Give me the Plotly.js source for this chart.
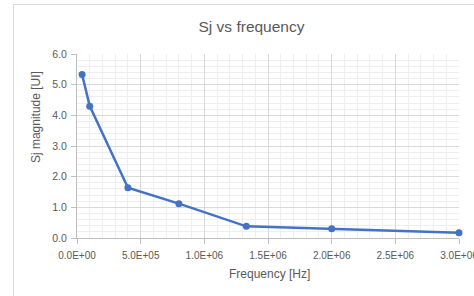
<!DOCTYPE html>
<html>
<head>
<meta charset="utf-8">
<script src="https://cdn.plot.ly/plotly-3.0.1.min.js"></script>
<style>
html,body{margin:0;padding:0;background:#fff;overflow:hidden;}
#wrap{position:relative;width:474px;height:296px;}
#chart{position:absolute;left:0;top:0;width:474px;height:296px;}
#frame{position:absolute;left:13px;top:4px;width:500px;height:320px;border-left:1px solid #d9d9d9;border-top:1px solid #d9d9d9;pointer-events:none;}
</style>
</head>
<body>
<div id="wrap"><div id="chart"></div><div id="frame"></div></div>
<script>
var frequencyHz = [40000, 100000, 400000, 800000, 1330000, 2000000, 3000000];
var sjMagnitudeUI = [5.33, 4.30, 1.64, 1.12, 0.38, 0.30, 0.17];
var xTickVals = [0, 500000, 1000000, 1500000, 2000000, 2500000, 3000000];
var xTickText = ["0.0E+00", "5.0E+05", "1.0E+06", "1.5E+06", "2.0E+06", "2.5E+06", "3.0E+06"];
var yTickVals = [0, 1, 2, 3, 4, 5, 6];
var yTickText = ["0.0", "1.0", "2.0", "3.0", "4.0", "5.0", "6.0"];

var FONT = "Liberation Sans, Arial, sans-serif";
var TXT = "#595959";

var trace = {
  x: frequencyHz, y: sjMagnitudeUI,
  type: "scatter", mode: "lines+markers",
  line: {color: "#4472C4", width: 2.5},
  marker: {color: "#4472C4", size: 7},
  cliponaxis: false,
  hoverinfo: "skip"
};

var layout = {
  width: 474, height: 296,
  margin: {l: 77, r: 15, t: 54, b: 58},
  paper_bgcolor: "rgba(0,0,0,0)", plot_bgcolor: "#fff",
  showlegend: false,
  font: {family: FONT, color: TXT},
  title: {text: "Sj vs frequency", font: {family: FONT, size: 15.5, color: TXT},
          x: 251.5/474, xanchor: "center", xref: "container",
          y: 1 - 27/296, yanchor: "middle", yref: "container"},
  xaxis: {
    range: [0, 3000000], tickmode: "array", tickvals: xTickVals, ticktext: xTickText,
    showgrid: true, gridcolor: "#d9d9d9", gridwidth: 1,
    minor: {dtick: 100000, showgrid: true, gridcolor: "#eeeeee", gridwidth: 1, ticks: ""},
    ticks: "outside", ticklen: 5, tickcolor: "#bfbfbf",
    showline: true, linecolor: "#bfbfbf", linewidth: 1,
    zeroline: false, fixedrange: true,
    ticklabeloverflow: "allow", ticklabelstandoff: 3,
    tickfont: {family: FONT, size: 10, color: TXT}
  },
  yaxis: {
    range: [0, 6], tickmode: "array", tickvals: yTickVals, ticktext: yTickText,
    showgrid: true, gridcolor: "#d9d9d9", gridwidth: 1,
    minor: {dtick: 0.2, showgrid: true, gridcolor: "#eeeeee", gridwidth: 1, ticks: ""},
    ticks: "outside", ticklen: 5, tickcolor: "#bfbfbf",
    showline: true, linecolor: "#bfbfbf", linewidth: 1,
    zeroline: false, fixedrange: true, ticklabelstandoff: 2,
    tickfont: {family: FONT, size: 10.5, color: TXT}
  },
  annotations: [
    {text: "Frequency [Hz]", xref: "paper", yref: "paper", x: (269-77)/382, y: (238.3-274)/184.6,
     xanchor: "center", yanchor: "middle", showarrow: false, font: {family: FONT, size: 12, color: TXT}},
    {text: "Sj magnitude [UI]", xref: "paper", yref: "paper", x: (36-77)/382, y: (238.3-117)/184.6,
     xanchor: "center", yanchor: "middle", textangle: -90, showarrow: false, font: {family: FONT, size: 12, color: TXT}}
  ]
};

Plotly.newPlot("chart", [trace], layout, {displayModeBar: false, staticPlot: true});
</script>
</body>
</html>
